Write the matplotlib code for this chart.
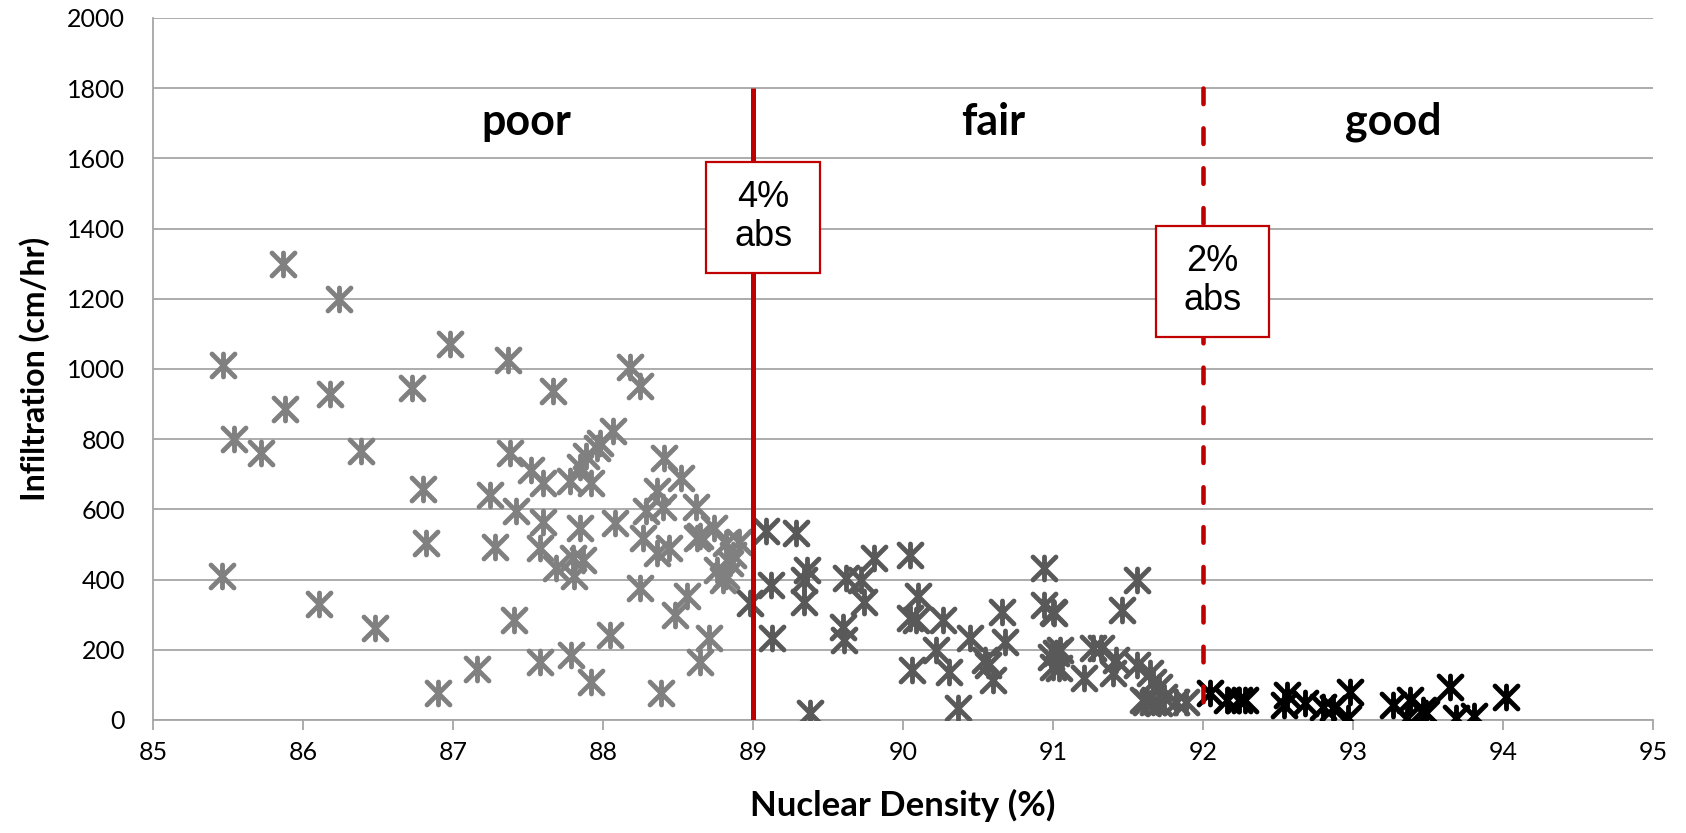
import numpy as np
import matplotlib
matplotlib.use("Agg")
from matplotlib import pyplot as plt
from matplotlib.path import Path
from matplotlib.markers import MarkerStyle
from matplotlib.patches import Rectangle

# poor (below 89 %), fair (89-92 %), good (above 92 %)
poor_x = [85.87, 86.24, 86.98, 87.37, 85.47, 86.73, 86.18, 85.88, 85.54, 85.72, 86.39, 87.38,
          86.80, 87.25, 87.42, 86.82, 87.28, 85.46, 86.11, 87.41, 86.48, 87.16, 86.90, 88.18,
          88.25, 87.67, 88.07, 87.98, 87.96, 87.89, 87.52, 88.41, 88.52, 87.60, 87.78, 87.92,
          87.85, 88.36, 88.40, 88.29, 88.62, 87.60, 87.85, 88.08, 88.74, 88.91, 88.82, 88.27,
          88.63, 87.58, 88.36, 88.44, 87.87, 87.69, 87.81, 88.76, 88.82, 88.85, 88.87, 88.25,
          88.56, 88.48, 88.05, 88.71, 88.65, 87.58, 87.79, 87.92, 88.39, 88.80, 88.65, 87.80]
poor_y = [1300, 1200, 1070, 1025, 1010, 945, 930, 885, 800, 760, 765, 760,
          658, 640, 596, 504, 494, 409, 331, 285, 261, 144, 76, 1007,
          952, 938, 822, 789, 775, 751, 713, 746, 689, 675, 680, 675,
          722, 651, 608, 594, 608, 565, 547, 562, 547, 508, 504, 518,
          518, 490, 475, 490, 456, 432, 409, 428, 409, 447, 470, 375,
          352, 299, 242, 233, 166, 166, 185, 109, 76, 399, 523, 461]

fair_x = [88.98, 89.09, 89.29, 89.12, 89.36, 89.34, 89.34, 89.13, 89.62, 89.72, 89.81, 89.74,
          89.60, 89.61, 89.38, 90.05, 90.10, 90.05, 90.09, 90.27, 90.22, 90.06, 90.31, 90.45,
          90.37, 90.55, 90.57, 90.60, 90.66, 90.68, 90.94, 90.94, 91.00, 90.99, 91.00, 91.56,
          91.01, 91.46, 91.05, 91.04, 91.27, 91.32, 91.21, 91.42, 91.40, 91.56, 91.65, 91.67,
          91.60, 91.67, 91.74, 91.82, 91.89, 91.71, 91.02, 91.62, 91.71]
fair_y = [333, 537, 532, 385, 428, 399, 337, 233, 404, 399, 461, 337,
          266, 228, 19, 470, 352, 290, 285, 285, 200, 143, 138, 233,
          33, 171, 157, 114, 309, 223, 432, 328, 309, 180, 152, 399,
          304, 314, 200, 147, 204, 204, 119, 171, 133, 157, 133, 109,
          57, 52, 66, 52, 52, 95, 190, 52, 48]

good_x = [92.05, 92.16, 92.24, 92.28, 92.56, 92.54, 92.68, 92.80, 92.87, 92.98, 92.97, 93.27,
          93.38, 93.36, 93.47, 93.49, 93.65, 93.69, 93.81, 94.02]
good_y = [76, 57, 57, 57, 71, 43, 48, 38, 33, 81, 5, 43,
          57, 5, 29, 19, 95, 5, 10, 66]

zone_labels = ["poor", "fair", "good"]
zone_label_x = [87.49, 90.6, 93.27]
limit_x = [89, 92]
limit_labels = ["4%\nabs", "2%\nabs"]

plt.rcParams['font.family'] = ['Lato', 'DejaVu Sans']

# excel style star marker: an X with a vertical bar
star = Path([(-1, -1), (1, 1), (-1, 1), (1, -1), (0, -1), (0, 1)],
            [Path.MOVETO, Path.LINETO, Path.MOVETO, Path.LINETO, Path.MOVETO, Path.LINETO])
mk = MarkerStyle(star, capstyle='round')

fig = plt.figure(figsize=(16.86, 8.33), dpi=100)
ax = fig.add_axes([0.0907, 0.1357, 0.8897, 0.8427])

grid_col = '#A6A6A6'
for xs, ys, col in [(poor_x, poor_y, '#808080'), (fair_x, fair_y, '#595959'), (good_x, good_y, '#000000')]:
    ax.plot(xs, ys, ls='none', marker=mk, ms=16.5, mew=3.5, mec=col, mfc='none', zorder=3)

red = '#C00000'
ax.plot([limit_x[0]] * 2, [0, 1800], color=red, lw=3.6, zorder=4, solid_capstyle='butt')
# dashed line drawn top-down so the pattern starts at the top
ax.plot([limit_x[1]] * 2, [1800, 0], color=red, lw=3.3, zorder=4, ls=(0, (3.4, 5.3)),
        dash_capstyle='round')

# boxes on the limit lines
boxes = [(88.69, 1274, 0.76, 316), (91.69, 1092, 0.75, 316)]
for (bx, by, bw, bh), lab in zip(boxes, limit_labels):
    ax.add_patch(Rectangle((bx, by), bw, bh, facecolor='white', edgecolor=red, lw=1.6, zorder=5))
    ax.text(bx + bw / 2, by + bh / 2, lab, ha='center', va='center', fontsize=26,
            family='Liberation Sans', linespacing=1.15, zorder=6)

for lab, lx in zip(zone_labels, zone_label_x):
    ax.text(lx, 1705, lab, ha='center', va='center', fontsize=31, fontweight='bold')

ax.set_xlim(85, 95)
ax.set_ylim(0, 2000)
ax.set_xticks(np.arange(85, 96, 1))
ax.set_yticks(np.arange(0, 2001, 200))
ax.yaxis.grid(True, color=grid_col, lw=1.3)
ax.set_axisbelow(True)
for s in ['top', 'right']:
    ax.spines[s].set_visible(False)
for s in ['left', 'bottom']:
    ax.spines[s].set_color(grid_col)
    ax.spines[s].set_linewidth(1.3)
ax.tick_params(axis='x', length=7, color=grid_col, width=1.3, labelsize=18, pad=8)
ax.tick_params(axis='y', length=0, labelsize=18, pad=20)

ax.set_xlabel('Nuclear Density (%)', fontsize=25, fontweight='bold', labelpad=18)
ax.set_ylabel('Infiltration (cm/hr)', fontsize=23, fontweight='bold', labelpad=12)

fig.savefig('out.png', dpi=100)
